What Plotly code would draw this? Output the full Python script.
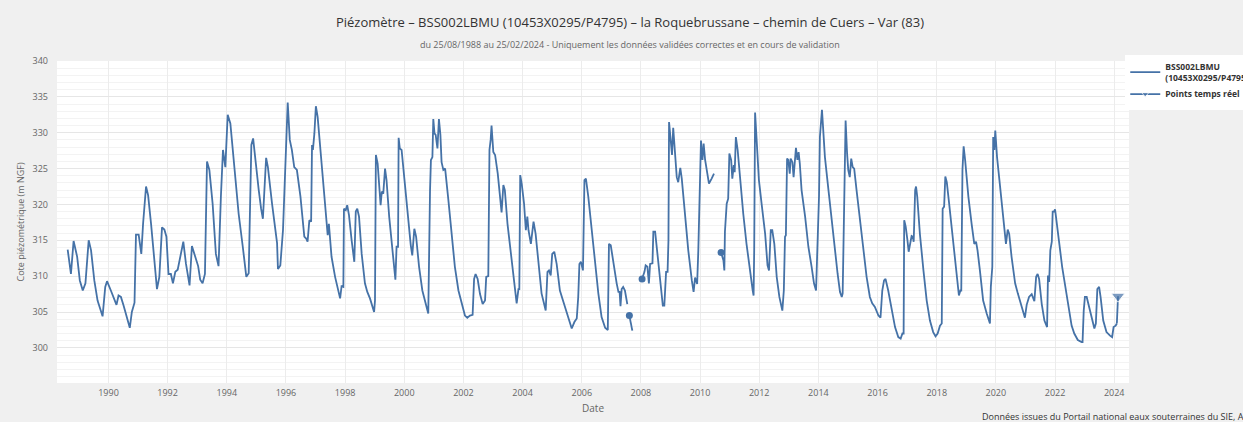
import datetime as dt
import plotly.graph_objects as go

# ---- data (decimal year, level in m NGF) ; None = gap in record ----
years = [
    1988.62, 1988.73, 1988.82, 1988.94, 1989.03, 1989.13, 1989.22, 1989.33, 1989.41, 1989.52,
    1989.63, 1989.80, 1989.89, 1989.95, 1990.08, 1990.27, 1990.34, 1990.42, 1990.51, 1990.63,
    1990.72, 1990.79, 1990.88, 1990.93, 1991.02, 1991.11, 1991.17, 1991.27, 1991.34, 1991.44,
    1991.53, 1991.64, 1991.72, 1991.81, 1991.89, 1991.96, 1992.03, 1992.11, 1992.18, 1992.26,
    1992.34, 1992.43, 1992.53, 1992.62, 1992.74, 1992.82, 1992.92, 1993.03, 1993.10, 1993.18,
    1993.26, 1993.33, 1993.41, 1993.52, 1993.63, 1993.72, 1993.80, 1993.87, 1993.95, 1994.03,
    1994.12, 1994.23, 1994.40, 1994.54, 1994.63, 1994.66, 1994.74, 1994.83, 1994.89, 1994.96,
    1995.08, 1995.16, 1995.22, 1995.33, 1995.39, 1995.53, 1995.70, 1995.73, 1995.81, 1995.90,
    1995.98, 1996.06, 1996.13, 1996.20, 1996.28, 1996.37, 1996.49, 1996.62, 1996.69, 1996.73,
    1996.79, 1996.85, 1996.88, 1996.91, 1996.96, 1997.01, 1997.07, 1997.16, 1997.27, 1997.38,
    1997.41, 1997.45, 1997.54, 1997.66, 1997.77, 1997.83, 1997.88, 1997.94, 1997.96, 1998.02,
    1998.07, 1998.13, 1998.22, 1998.31, 1998.36, 1998.41, 1998.47, 1998.56, 1998.67, 1998.75,
    1998.84, 1998.98, 1999.01, 1999.04, 1999.10, 1999.16, 1999.20, 1999.24, 1999.29, 1999.35,
    1999.40, 1999.49, 1999.57, 1999.65, 1999.70, 1999.74, 1999.79, 1999.81, 1999.85, 1999.91,
    2000.02, 2000.14, 2000.22, 2000.27, 2000.34, 2000.40, 2000.50, 2000.61, 2000.70, 2000.81,
    2000.87, 2000.90, 2000.95, 2000.98, 2001.02, 2001.06, 2001.12, 2001.17, 2001.22, 2001.26,
    2001.32, 2001.38, 2001.49, 2001.60, 2001.71, 2001.83, 2001.94, 2002.05, 2002.13, 2002.22,
    2002.31, 2002.36, 2002.41, 2002.48, 2002.56, 2002.65, 2002.73, 2002.77, 2002.84, 2002.88,
    2002.92, 2002.95, 2003.01, 2003.07, 2003.16, 2003.24, 2003.29, 2003.35, 2003.40, 2003.49,
    2003.61, 2003.72, 2003.80, 2003.86, 2003.89, 2003.92, 2003.97, 2004.05, 2004.11, 2004.16,
    2004.20, 2004.28, 2004.37, 2004.44, 2004.53, 2004.64, 2004.78, 2004.84, 2004.89, 2004.95,
    2005.00, 2005.07, 2005.15, 2005.26, 2005.38, 2005.49, 2005.58, 2005.66, 2005.75, 2005.83,
    2005.88, 2005.92, 2005.97, 2006.04, 2006.09, 2006.14, 2006.22, 2006.34, 2006.45, 2006.56,
    2006.67, 2006.79, 2006.88, 2006.92, 2006.98, 2007.07, 2007.18, 2007.24, 2007.28, 2007.31,
    2007.35, 2007.40, 2007.46, 2007.54, 2007.575,
    2007.61, 2007.71, 2007.90,
    2008.04, 2008.12, 2008.16, 2008.22, 2008.27, 2008.31, 2008.39, 2008.42, 2008.48, 2008.57,
    2008.67, 2008.74, 2008.79, 2008.85, 2008.90, 2008.93, 2008.95, 2009.02, 2009.05, 2009.09,
    2009.15, 2009.21, 2009.26, 2009.33, 2009.38, 2009.49, 2009.60, 2009.72, 2009.78, 2009.83,
    2009.90, 2009.94, 2009.99, 2010.03, 2010.08, 2010.12, 2010.17, 2010.22, 2010.30, 2010.39,
    2010.47, 2010.60,
    2010.71, 2010.79, 2010.82, 2010.84, 2010.90, 2010.95, 2010.99, 2011.05, 2011.09, 2011.14,
    2011.17, 2011.21, 2011.27, 2011.35, 2011.46, 2011.57, 2011.69, 2011.78, 2011.81, 2011.83,
    2011.86, 2011.91, 2011.99, 2012.08, 2012.20, 2012.28, 2012.33, 2012.39, 2012.44, 2012.51,
    2012.59, 2012.68, 2012.78, 2012.83, 2012.87, 2012.90, 2012.94, 2012.98, 2013.03, 2013.06,
    2013.12, 2013.16, 2013.21, 2013.24, 2013.29, 2013.33, 2013.37, 2013.43, 2013.55, 2013.66,
    2013.77, 2013.85, 2013.92, 2013.98, 2014.02, 2014.05, 2014.09, 2014.12, 2014.17, 2014.22,
    2014.34, 2014.47, 2014.56, 2014.65, 2014.73, 2014.79, 2014.82, 2014.84, 2014.88, 2014.92,
    2014.97, 2015.01, 2015.06, 2015.11, 2015.16, 2015.21, 2015.29, 2015.40, 2015.52, 2015.63,
    2015.74, 2015.82, 2015.91, 2016.03, 2016.10, 2016.16, 2016.22, 2016.27, 2016.36, 2016.48,
    2016.59, 2016.70, 2016.78, 2016.84, 2016.88, 2016.90, 2016.95, 2017.01, 2017.05, 2017.10,
    2017.15, 2017.19, 2017.22, 2017.27, 2017.30, 2017.34, 2017.43, 2017.55, 2017.66, 2017.77,
    2017.88, 2017.96, 2018.03, 2018.11, 2018.17, 2018.20, 2018.25, 2018.29, 2018.34, 2018.42,
    2018.51, 2018.60, 2018.67, 2018.75, 2018.80, 2018.83, 2018.87, 2018.91, 2018.96, 2019.07,
    2019.18, 2019.27, 2019.33, 2019.38, 2019.46, 2019.57, 2019.69, 2019.80, 2019.83, 2019.88,
    2019.91, 2019.95, 2019.98, 2020.04, 2020.12, 2020.20, 2020.29, 2020.34, 2020.40, 2020.45,
    2020.53, 2020.65, 2020.74, 2020.82, 2020.89, 2020.98, 2021.04, 2021.12, 2021.21, 2021.30,
    2021.36, 2021.41, 2021.46, 2021.55, 2021.64, 2021.73, 2021.76, 2021.80, 2021.84, 2021.89,
    2021.92, 2021.96, 2022.00, 2022.05, 2022.13, 2022.24, 2022.36, 2022.47, 2022.56, 2022.65,
    2022.77, 2022.90, 2022.93, 2022.97, 2023.01, 2023.07, 2023.15, 2023.24, 2023.33, 2023.38,
    2023.43, 2023.49, 2023.54, 2023.63, 2023.74, 2023.86, 2023.93, 2023.98, 2024.05, 2024.09,
]
levels = [
    313.7, 310.3, 314.9, 312.7, 309.4, 308.0, 309.0, 315.0, 313.6, 309.4,
    306.6, 304.4, 308.5, 309.3, 308.0, 306.0, 307.3, 307.1, 305.9, 303.9,
    302.8, 305.0, 306.3, 315.8, 315.8, 313.1, 317.3, 322.5, 321.3, 317.3,
    313.1, 308.2, 309.9, 316.8, 316.5, 315.5, 310.3, 310.3, 309.0, 310.6,
    310.9, 312.9, 314.8, 311.7, 308.7, 314.2, 312.9, 311.4, 309.5, 309.0,
    310.3, 326.0, 324.8, 320.1, 313.1, 311.4, 321.1, 327.6, 325.2, 332.5,
    331.3, 326.2, 318.7, 314.1, 311.5, 309.9, 310.4, 328.3, 329.2, 326.2,
    322.0, 319.4, 318.0, 326.5, 325.2, 320.1, 314.6, 311.0, 311.5, 316.4,
    324.8, 334.2, 329.0, 327.6, 325.2, 324.8, 321.1, 315.5, 315.2, 314.8,
    317.8, 317.6, 328.3, 327.6, 329.9, 333.7, 332.2, 327.6, 322.4, 317.6,
    315.7, 317.3, 312.7, 309.9, 308.0, 306.9, 308.6, 308.5, 319.4, 319.2,
    319.9, 318.5, 315.0, 312.0, 319.0, 319.4, 318.3, 313.1, 309.0, 307.8,
    306.9, 305.0, 306.6, 326.9, 325.7, 322.0, 319.9, 321.8, 321.5, 325.0,
    323.4, 318.3, 314.5, 311.3, 309.5, 314.1, 314.1, 329.3, 327.8, 327.6,
    322.9, 317.3, 314.3, 312.9, 316.6, 315.5, 311.3, 308.0, 306.4, 304.8,
    322.0, 326.2, 326.6, 331.9, 329.9, 329.7, 327.8, 331.9, 329.7, 325.9,
    324.8, 325.0, 320.6, 315.9, 311.3, 308.0, 306.1, 304.5, 304.2, 304.5,
    304.6, 309.6, 310.3, 309.6, 307.5, 306.1, 306.6, 309.9, 310.0, 327.6,
    329.0, 331.0, 327.3, 326.9, 324.3, 321.5, 318.9, 322.7, 322.0, 317.3,
    312.7, 309.0, 306.2, 308.2, 308.2, 324.1, 322.9, 320.1, 316.4, 318.3,
    316.4, 314.5, 317.6, 315.9, 311.7, 307.6, 305.2, 310.6, 310.8, 310.1,
    313.1, 313.4, 311.7, 308.0, 306.4, 305.0, 303.6, 302.7, 303.6, 304.1,
    307.1, 311.7, 312.0, 310.8, 323.4, 323.6, 321.1, 316.4, 312.2, 307.6,
    304.3, 302.8, 302.5, 314.5, 314.3, 311.7, 309.0, 307.8, 307.8, 305.8,
    308.2, 308.5, 308.0, 306.1, None,
    304.5, 302.4, None,
    309.6, 310.6, 311.5, 311.3, 309.0, 311.7, 311.8, 316.2, 316.2, 312.7,
    308.5, 305.9, 305.9, 310.6, 310.6, 315.0, 331.5, 327.6, 326.9, 330.7,
    327.1, 323.8, 323.1, 325.1, 323.6, 318.3, 313.6, 309.4, 307.8, 309.8,
    308.9, 313.6, 322.9, 328.9, 326.2, 328.5, 326.2, 324.8, 322.9, 323.6,
    324.3, None,
    313.3, 312.2, 310.8, 316.2, 320.1, 320.8, 327.1, 326.2, 323.6, 325.5,
    324.5, 329.4, 327.6, 323.4, 318.7, 314.5, 310.3, 308.0, 307.3, 313.6,
    332.8, 329.0, 323.4, 320.1, 315.9, 311.5, 310.8, 316.4, 316.4, 314.5,
    309.9, 307.1, 305.2, 308.0, 315.5, 315.7, 326.4, 326.2, 324.3, 326.4,
    325.9, 323.8, 327.3, 327.9, 326.2, 327.3, 325.7, 322.0, 318.3, 314.1,
    311.3, 309.0, 308.0, 314.5, 321.1, 329.4, 331.3, 333.2, 329.9, 326.6,
    322.0, 316.9, 313.6, 310.3, 307.8, 307.1, 307.6, 313.6, 322.0, 331.7,
    327.1, 324.8, 323.8, 326.4, 325.2, 325.0, 322.0, 317.8, 313.6, 309.9,
    307.1, 306.2, 305.7, 304.5, 304.2, 308.0, 309.4, 309.6, 308.0, 305.2,
    302.9, 301.5, 301.3, 302.0, 302.0, 317.8, 316.9, 315.0, 313.4, 314.5,
    315.6, 315.5, 314.8, 322.0, 322.5, 321.1, 315.9, 310.8, 306.6, 303.8,
    302.2, 301.6, 302.0, 303.1, 303.4, 319.4, 319.7, 323.9, 323.1, 320.1,
    316.4, 312.7, 310.3, 307.3, 308.0, 308.0, 324.8, 328.1, 326.2, 321.1,
    317.3, 314.5, 314.8, 313.6, 310.8, 306.6, 304.8, 303.4, 308.5, 311.3,
    329.4, 327.6, 330.3, 326.6, 323.4, 320.1, 316.9, 314.5, 316.5, 315.9,
    312.7, 309.0, 307.6, 306.4, 305.2, 304.2, 306.0, 307.1, 307.5, 306.5,
    309.9, 310.3, 309.6, 306.1, 303.8, 302.9, 310.1, 309.2, 313.6, 314.8,
    319.0, 319.0, 319.3, 317.8, 315.0, 311.3, 308.0, 305.2, 303.1, 302.0,
    301.1, 300.8, 300.8, 305.2, 307.1, 307.1, 305.7, 304.1, 302.7, 303.4,
    308.2, 308.5, 307.1, 303.8, 302.2, 301.7, 301.5, 302.9, 303.1, 303.4,
]

# isolated / segment-start points shown with a marker
marker_years = [2007.61, 2008.04, 2010.71]
marker_levels = [304.5, 309.6, 313.3]

# real-time points
rt_years = [2024.09, 2024.13]
rt_levels = [303.4, 307.2]

x_ticks = list(range(1990, 2025, 2))


def to_date(y):
    year = int(y)
    start = dt.datetime(year, 1, 1)
    end = dt.datetime(year + 1, 1, 1)
    return start + (end - start) * (y - year)


COLOR = "#4572a7"
FONT = "Open Sans"

fig = go.Figure()
fig.add_trace(go.Scatter(
    x=[to_date(v) for v in years], y=levels, mode="lines",
    line=dict(color=COLOR, width=1.8), connectgaps=False,
    name="<b>BSS002LBMU<br>(10453X0295/P4795)</b>",
))
fig.add_trace(go.Scatter(
    x=[to_date(v) for v in marker_years], y=marker_levels, mode="markers",
    marker=dict(color=COLOR, size=7, symbol="circle"), showlegend=False,
))
fig.add_trace(go.Scatter(
    x=[to_date(v) for v in rt_years], y=rt_levels, mode="lines+markers",
    line=dict(color=COLOR, width=1.8),
    marker=dict(color=COLOR, size=[0, 12], symbol="triangle-down"),
    name="<b>Points temps réel</b>",
))

fig.update_layout(
    width=1243, height=422,
    paper_bgcolor="#f0f0f0", plot_bgcolor="#ffffff",
    margin=dict(l=57, r=114, t=61, b=39, autoexpand=False),
    font=dict(family=FONT, color="#666666", size=10),
    title=dict(
        text="Piézomètre – BSS002LBMU (10453X0295/P4795) – la Roquebrussane – chemin de Cuers – Var (83)",
        x=630 / 1243, xanchor="center", y=1 - 22 / 422, yanchor="middle",
        font=dict(family=FONT, size=13, color="#333333"),
    ),
    showlegend=True,
    legend=dict(
        x=0.9965, xanchor="left", y=1.02, yanchor="top",
        bgcolor="#ffffff", font=dict(family=FONT, size=8.5, color="#333333"),
        tracegroupgap=2, itemwidth=30,
    ),
    xaxis=dict(
        type="date",
        range=[to_date(1988.26), to_date(2024.5)],
        tickmode="array",
        tickvals=[dt.datetime(y, 1, 1) for y in x_ticks],
        ticktext=[str(y) for y in x_ticks],
        showgrid=True, gridcolor="#ececec", gridwidth=1,
        zeroline=False, showline=False, ticks="",
        tickfont=dict(size=9, color="#666666"),
        ticklabelstandoff=3,
        title=dict(text="Date", font=dict(size=10, color="#666666"), standoff=6),
    ),
    yaxis=dict(
        range=[295.1, 340],
        tickmode="linear", tick0=300, dtick=5,
        showgrid=True, gridcolor="#e6e6e6", gridwidth=1,
        minor=dict(tickmode="linear", tick0=295, dtick=1, showgrid=True,
                   gridcolor="#f3f3f3", gridwidth=1),
        zeroline=False, showline=False, ticks="",
        tickfont=dict(size=9, color="#666666"),
        ticklabelstandoff=8,
        title=dict(text="Cote piézométrique (m NGF)", font=dict(size=9, color="#666666"), standoff=6),
    ),
    annotations=[
        dict(text="du 25/08/1988 au 25/02/2024 - Uniquement les données validées correctes et en cours de validation",
             xref="paper", yref="paper", x=(630 - 57) / 1072, y=(383 - 45) / 322,
             xanchor="center", yanchor="middle", showarrow=False,
             font=dict(family=FONT, size=9, color="#666666")),
        dict(text="Données issues du Portail national eaux souterraines du SIE, ADES",
             xref="paper", yref="paper", x=(980 - 57) / 1072, y=(383 - 416) / 322,
             xanchor="left", yanchor="middle", showarrow=False,
             font=dict(family=FONT, size=9, color="#333333")),
    ],
)

fig.write_html(
    "out.html",
    config={"displayModeBar": False},
    post_script="document.body.style.margin='0';document.body.style.overflow='hidden';",
)
